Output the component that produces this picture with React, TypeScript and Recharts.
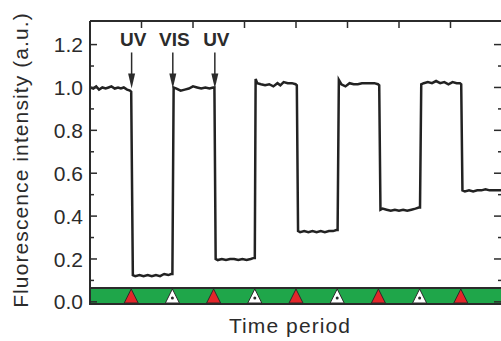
import { ComposedChart, Line, Scatter, XAxis, YAxis, ReferenceArea } from 'recharts';

// fluorescence trace (time in switching periods)
const traceTime = [
  0, 0.08, 0.15, 0.22, 0.3, 0.38, 0.45, 0.52, 0.6, 0.68, 0.75, 0.82, 0.9, 0.97, 1.0,
  1.04, 1.1, 1.2, 1.3, 1.4, 1.5, 1.6, 1.7, 1.8, 1.9, 1.97,
  2.0, 2.03, 2.1, 2.2, 2.3, 2.4, 2.5, 2.6, 2.7, 2.8, 2.9, 2.99,
  3.02, 3.05, 3.1, 3.2, 3.3, 3.4, 3.5, 3.6, 3.7, 3.8, 3.9, 3.98,
  4.0, 4.02, 4.06, 4.15, 4.25, 4.35, 4.45, 4.55, 4.62, 4.7, 4.8, 4.9, 4.99,
  5.02, 5.05, 5.1, 5.2, 5.3, 5.4, 5.5, 5.6, 5.7, 5.8, 5.9, 5.98,
  6.01, 6.04, 6.1, 6.2, 6.3, 6.4, 6.5, 6.6, 6.7, 6.8, 6.9, 6.99,
  7.02, 7.05, 7.1, 7.2, 7.3, 7.4, 7.5, 7.6, 7.7, 7.8, 7.9, 7.98,
  8.01, 8.04, 8.1, 8.2, 8.3, 8.4, 8.5, 8.6, 8.7, 8.8, 8.9, 8.98,
  9.01, 9.04, 9.1, 9.2, 9.3, 9.4, 9.5, 9.6, 9.7, 9.8, 9.9, 10,
];
const traceValue = [
  1.0, 0.995, 1.005, 0.99, 1.0, 0.995, 1.0, 1.005, 0.995, 1.0, 0.995, 1.0, 0.99, 0.985, 0.98,
  0.125, 0.12, 0.125, 0.12, 0.125, 0.12, 0.125, 0.12, 0.13, 0.125, 0.13,
  0.13, 1.0, 0.995, 0.985, 0.99, 0.995, 1.005, 1.0, 0.995, 1.0, 0.995, 1.0,
  1.0, 0.2, 0.195, 0.2, 0.195, 0.2, 0.2, 0.195, 0.2, 0.195, 0.2, 0.205,
  0.205, 1.04, 1.02, 1.015, 1.01, 1.015, 1.005, 1.02, 1.01, 1.025, 1.02, 1.02, 1.015,
  1.01, 0.33, 0.325, 0.33, 0.325, 0.33, 0.325, 0.33, 0.325, 0.33, 0.33, 0.335,
  0.335, 1.035, 1.015, 1.005, 1.02, 1.015, 1.015, 1.02, 1.02, 1.02, 1.02, 1.015,
  1.01, 0.43, 0.435, 0.43, 0.425, 0.43, 0.425, 0.43, 0.425, 0.43, 0.435, 0.44,
  0.44, 1.015, 1.02, 1.025, 1.02, 1.03, 1.02, 1.025, 1.015, 1.025, 1.02, 1.02,
  1.015, 0.52, 0.515, 0.52, 0.515, 0.52, 0.52, 0.525, 0.52, 0.52, 0.52, 0.52,
];

const uvTimes = [1, 3, 5, 7, 9];
const visTimes = [2, 4, 6, 8];
const arrowTimes = [1.01, 2.01, 3.03];
const arrowLabels = ['UV', 'VIS', 'UV'];
const arrowLevel = 1.0;

const yTicks = [0, 0.1, 0.2, 0.3, 0.4, 0.5, 0.6, 0.7, 0.8, 0.9, 1.0, 1.1, 1.2];
const topTicks = [0, 1.25, 2.5, 3.75, 5, 6.25, 7.5, 8.75, 10];

const yDomain = [-0.01, 1.31];
const bandTop = 0.065;

const data = traceTime.map((t, i) => ({ t, v: traceValue[i] }));
const uvData = uvTimes.map(t => ({ t, v: yDomain[0] }));
const visData = visTimes.map(t => ({ t, v: yDomain[0] }));
const arrowData = arrowTimes.map((t, i) => ({ t, v: arrowLevel, label: arrowLabels[i] }));

const FONT = 'Arial, Liberation Sans, Helvetica, sans-serif';
const INK = '#2b2b2b';

const isMajor = (v: number) => Math.round(v * 10) % 2 === 0;

const LeftTick = (props: any) => {
  const { x, y, payload } = props;
  const v = payload.value;
  const ax = x + 7;
  return (
    <g>
      <line x1={ax} x2={ax + (isMajor(v) ? 7 : 4)} y1={y} y2={y} stroke={INK} strokeWidth={1.5} />
      {isMajor(v) && (
        <text x={x} y={y} dy="0.36em" textAnchor="end" fill={INK} style={{ fontFamily: FONT, fontSize: 21 }}>
          {v.toFixed(1)}
        </text>
      )}
    </g>
  );
};

const RightTick = (props: any) => {
  const { x, y, payload } = props;
  return <line x1={x} x2={x - (isMajor(payload.value) ? 8 : 4)} y1={y} y2={y} stroke={INK} strokeWidth={1.5} />;
};

const TopTick = (props: any) => {
  const { x, y } = props;
  return <line x1={x} x2={x} y1={y} y2={y + 7} stroke={INK} strokeWidth={1.5} />;
};

const UvMark = (props: any) => {
  const { cx, cy } = props;
  const b = cy - 1;
  return <path d={`M${cx - 7},${b} L${cx + 7},${b} L${cx},${b - 14} Z`} fill="#e3262a" stroke={INK} strokeWidth={1} />;
};

const VisMark = (props: any) => {
  const { cx, cy } = props;
  const b = cy - 1;
  return (
    <g>
      <path d={`M${cx - 7},${b} L${cx + 7},${b} L${cx},${b - 14} Z`} fill="#ffffff" stroke={INK} strokeWidth={1} />
      <circle cx={cx} cy={b - 5} r={1.5} fill={INK} />
    </g>
  );
};

const ArrowMark = (props: any) => {
  const { cx, cy, payload } = props;
  const tip = cy + 1;
  return (
    <g>
      <line x1={cx} x2={cx} y1={cy - 35} y2={tip - 10} stroke={INK} strokeWidth={1.5} />
      <path d={`M${cx - 3.5},${tip - 15} L${cx + 3.5},${tip - 15} L${cx},${tip} Z`} fill={INK} />
      <text x={cx + 1.5} y={cy - 41} textAnchor="middle" fill={INK} style={{ fontFamily: FONT, fontSize: 19, fontWeight: 'bold' }}>
        {payload.label}
      </text>
    </g>
  );
};

const YTitle = () => (
  <text
    x={28}
    y={160}
    transform="rotate(-90, 28, 160)"
    textAnchor="middle"
    fill={INK}
    style={{ fontFamily: FONT, fontSize: 21, letterSpacing: 1.1 }}
  >
    Fluorescence intensity (a.u.)
  </text>
);

const XTitle = () => (
  <text x={290} y={333} textAnchor="middle" fill={INK} style={{ fontFamily: FONT, fontSize: 21, letterSpacing: 1.1 }}>
    Time period
  </text>
);

export default function App() {
  return (
    <div style={{ position: 'absolute', left: 0, top: 0, width: 501, height: 341, overflow: 'hidden', background: '#fff' }}>
      <ComposedChart width={510} height={341} data={data} margin={{ top: 0, right: 0, bottom: 0, left: 0 }}>
        <XAxis
          xAxisId="bottom"
          dataKey="t"
          type="number"
          domain={[0, 10]}
          allowDataOverflow
          height={37}
          tick={false}
          tickLine={false}
          axisLine={{ stroke: INK, strokeWidth: 2 }}
          label={XTitle}
        />
        <XAxis
          xAxisId="top"
          orientation="top"
          dataKey="t"
          type="number"
          domain={[0, 10]}
          allowDataOverflow
          ticks={topTicks}
          height={21}
          tickSize={0}
          tickMargin={0}
          tickLine={false}
          tick={TopTick}
          axisLine={{ stroke: INK, strokeWidth: 2 }}
        />
        <YAxis
          yAxisId="left"
          type="number"
          domain={yDomain}
          allowDataOverflow
          ticks={yTicks}
          width={90}
          tickSize={0}
          tickMargin={7}
          tickLine={false}
          tick={LeftTick}
          interval={0}
          axisLine={{ stroke: INK, strokeWidth: 2 }}
          label={YTitle}
        />
        <YAxis
          yAxisId="right"
          orientation="right"
          type="number"
          domain={yDomain}
          allowDataOverflow
          ticks={yTicks}
          width={8}
          tickSize={0}
          tickMargin={0}
          tickLine={false}
          tick={RightTick}
          interval={0}
          axisLine={{ stroke: INK, strokeWidth: 2 }}
        />
        <ReferenceArea
          xAxisId="bottom"
          yAxisId="left"
          x1={0}
          x2={10}
          y1={yDomain[0]}
          y2={bandTop}
          fill="#1fa64a"
          fillOpacity={1}
          stroke={INK}
          strokeWidth={2}
        />
        <Scatter xAxisId="bottom" yAxisId="left" data={uvData} dataKey="v" shape={UvMark} isAnimationActive={false} />
        <Scatter xAxisId="bottom" yAxisId="left" data={visData} dataKey="v" shape={VisMark} isAnimationActive={false} />
        <Line
          xAxisId="bottom"
          yAxisId="left"
          type="linear"
          dataKey="v"
          stroke="#222"
          strokeWidth={2.5}
          dot={false}
          isAnimationActive={false}
        />
        <Scatter xAxisId="bottom" yAxisId="left" data={arrowData} dataKey="v" shape={ArrowMark} isAnimationActive={false} />
      </ComposedChart>
    </div>
  );
}
